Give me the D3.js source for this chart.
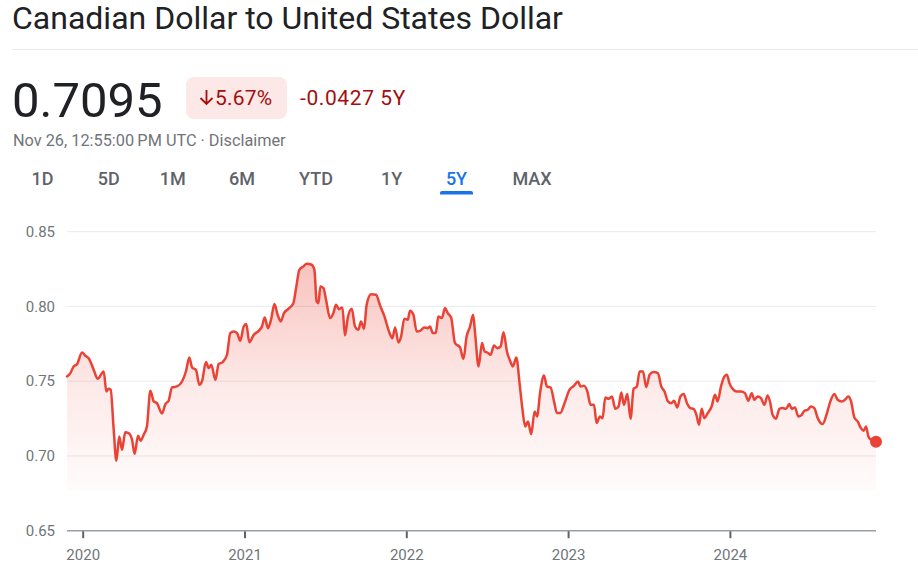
<!DOCTYPE html>
<html>
<head>
<meta charset="utf-8">
<script src="https://cdn.jsdelivr.net/npm/d3@7"></script>
<style>
  html, body { margin: 0; padding: 0; background: #fff; }
  svg { display: block; font-family: Roboto, "Noto Sans", Arial, sans-serif; }
</style>
</head>
<body>
<svg id="chart" width="918" height="571"></svg>
<script>
// ---------- data ----------
const title = "Canadian Dollar to United States Dollar";
const lastPrice = "0.7095";
const changeArrow = "\u2193";
const changePct = "5.67%";
const changeAbs = "-0.0427 5Y";
const timestamp = "Nov 26, 12:55:00\u2009PM UTC \u00b7 Disclaimer";
const rangeTabs = ["1D", "5D", "1M", "6M", "YTD", "1Y", "5Y", "MAX"];
const activeTab = "5Y";
const yTicks = [0.65, 0.70, 0.75, 0.80, 0.85];
const yTickLabels = ["0.65", "0.70", "0.75", "0.80", "0.85"];
const xTicks = [2020, 2021, 2022, 2023, 2024];
const xTickLabels = ["2020", "2021", "2022", "2023", "2024"];

// time as decimal years (Nov 26 2019 .. Nov 26 2024)
const dates = [
  2019.903, 2019.924, 2019.944, 2019.965, 2019.996, 2020.016, 2020.037, 2020.068, 2020.092, 2020.130,
  2020.146, 2020.160, 2020.173, 2020.191, 2020.208, 2020.226, 2020.243, 2020.263, 2020.284, 2020.305,
  2020.321, 2020.342, 2020.358, 2020.377, 2020.397, 2020.418, 2020.439, 2020.459, 2020.490, 2020.511,
  2020.531, 2020.552, 2020.583, 2020.614, 2020.638, 2020.659, 2020.676, 2020.700, 2020.721, 2020.737,
  2020.762, 2020.779, 2020.795, 2020.820, 2020.840, 2020.865, 2020.892, 2020.912, 2020.933, 2020.954,
  2020.974, 2020.995, 2021.011, 2021.030, 2021.057, 2021.088, 2021.108, 2021.125, 2021.145,
  2021.164, 2021.185, 2021.205, 2021.224, 2021.244, 2021.271, 2021.302, 2021.319, 2021.339, 2021.364,
  2021.385, 2021.415, 2021.432, 2021.446, 2021.457, 2021.469, 2021.488, 2021.504, 2021.529, 2021.549,
  2021.566, 2021.584, 2021.605, 2021.621, 2021.638, 2021.663, 2021.683, 2021.704, 2021.720, 2021.739,
  2021.755, 2021.782, 2021.813, 2021.838, 2021.865, 2021.893, 2021.914, 2021.931, 2021.951, 2021.968,
  2021.988, 2022.009, 2022.023, 2022.044, 2022.064, 2022.085, 2022.112, 2022.132, 2022.147, 2022.163,
  2022.182, 2022.198, 2022.219, 2022.240, 2022.256, 2022.277, 2022.301, 2022.332, 2022.353, 2022.373,
  2022.394, 2022.413,
  2022.426, 2022.447, 2022.468, 2022.484, 2022.501, 2022.521, 2022.542, 2022.562, 2022.583, 2022.601,
  2022.622, 2022.643, 2022.659, 2022.680, 2022.700, 2022.717, 2022.735, 2022.752, 2022.772, 2022.793,
  2022.808, 2022.828, 2022.851, 2022.869, 2022.892, 2022.913, 2022.931, 2022.952, 2022.978, 2023.009,
  2023.036, 2023.061, 2023.077, 2023.098, 2023.119, 2023.139, 2023.160, 2023.176, 2023.197, 2023.213,
  2023.230, 2023.250, 2023.271, 2023.292, 2023.312, 2023.329, 2023.345, 2023.366, 2023.386, 2023.405,
  2023.425, 2023.442, 2023.463, 2023.483, 2023.504, 2023.528, 2023.555, 2023.576, 2023.596, 2023.617,
  2023.638, 2023.654, 2023.675,
  2023.694, 2023.714, 2023.735, 2023.756, 2023.776, 2023.793, 2023.809, 2023.826, 2023.842, 2023.863,
  2023.887, 2023.908, 2023.924, 2023.945, 2023.966, 2023.982, 2023.997, 2024.021, 2024.042, 2024.069,
  2024.093, 2024.114, 2024.135, 2024.151, 2024.172, 2024.192, 2024.213, 2024.233, 2024.250, 2024.264,
  2024.285, 2024.306, 2024.326, 2024.347, 2024.367, 2024.382, 2024.402, 2024.423, 2024.444, 2024.460,
  2024.481, 2024.501, 2024.522, 2024.543, 2024.573, 2024.600, 2024.621, 2024.646, 2024.666, 2024.691,
  2024.711, 2024.732, 2024.749, 2024.769, 2024.790, 2024.810, 2024.827, 2024.841, 2024.856, 2024.872,
  2024.903
];
const rates = [
  0.7532, 0.7554, 0.7599, 0.7614, 0.7692, 0.7670, 0.7654, 0.7576, 0.7516, 0.7565,
  0.7431, 0.7449, 0.7443, 0.7186, 0.6968, 0.7130, 0.7041, 0.7159, 0.7153, 0.7108,
  0.7015, 0.7135, 0.7101, 0.7142, 0.7197, 0.7436, 0.7365, 0.7353, 0.7284, 0.7347,
  0.7369, 0.7458, 0.7465, 0.7498, 0.7565, 0.7659, 0.7592, 0.7576, 0.7476, 0.7498,
  0.7628, 0.7588, 0.7610, 0.7509, 0.7614, 0.7628, 0.7677, 0.7822, 0.7833, 0.7822,
  0.7770, 0.7866, 0.7882, 0.7761, 0.7810, 0.7837, 0.7866, 0.7926, 0.7855,
  0.7911, 0.8016, 0.7944, 0.7900, 0.7955, 0.7984, 0.8022, 0.8123, 0.8245, 0.8268,
  0.8285, 0.8279, 0.8245, 0.8033, 0.8022, 0.8134, 0.8123, 0.8045, 0.7922, 0.7955,
  0.8011, 0.7982, 0.7993, 0.7806, 0.7922, 0.7984, 0.7866, 0.7844, 0.7900, 0.7851,
  0.8011, 0.8082, 0.8078, 0.8007, 0.7933, 0.7833, 0.7788, 0.7860, 0.7759, 0.7800,
  0.7918, 0.7911, 0.7971, 0.7944, 0.7833, 0.7837, 0.7860, 0.7855, 0.7866, 0.7822,
  0.7822, 0.7933, 0.7922, 0.7989, 0.7955, 0.7926, 0.7755, 0.7726, 0.7648, 0.7800,
  0.7866, 0.7944,
  0.7810, 0.7599, 0.7755, 0.7699, 0.7692, 0.7677, 0.7739, 0.7721, 0.7733, 0.7828,
  0.7699, 0.7632, 0.7599, 0.7659, 0.7487, 0.7320, 0.7197, 0.7231, 0.7146, 0.7298,
  0.7264, 0.7431, 0.7538, 0.7465, 0.7458, 0.7365, 0.7287, 0.7287, 0.7353, 0.7443,
  0.7469, 0.7498, 0.7465, 0.7469, 0.7431, 0.7342, 0.7342, 0.7220, 0.7264, 0.7253,
  0.7391, 0.7382, 0.7398, 0.7315, 0.7331, 0.7425, 0.7342, 0.7414, 0.7249, 0.7449,
  0.7465, 0.7565, 0.7565, 0.7460, 0.7543, 0.7561, 0.7554, 0.7465, 0.7431, 0.7365,
  0.7353, 0.7369, 0.7324,
  0.7398, 0.7414, 0.7353, 0.7320, 0.7315, 0.7275, 0.7208, 0.7315, 0.7253, 0.7287,
  0.7331, 0.7409, 0.7365, 0.7465, 0.7532, 0.7543, 0.7487, 0.7443, 0.7431, 0.7431,
  0.7420, 0.7369, 0.7420, 0.7376, 0.7398, 0.7387, 0.7342, 0.7405, 0.7353, 0.7275,
  0.7249, 0.7315, 0.7320, 0.7315, 0.7347, 0.7315, 0.7324, 0.7264, 0.7275, 0.7302,
  0.7309, 0.7331, 0.7320, 0.7253, 0.7213, 0.7287, 0.7365, 0.7414, 0.7376, 0.7365,
  0.7376, 0.7398, 0.7365, 0.7258, 0.7231, 0.7186, 0.7168, 0.7197, 0.7130, 0.7108,
  0.7095
];

// ---------- layout ----------
const W = 918, H = 571;
const plot = { left: 67, right: 876, top: 231.7, bottom: 530.7, fillBottom: 490 };
const RED = "#ea4335";

const svg = d3.select("#chart");

// header
svg.append("text").attr("x", 12).attr("y", 28.5)
  .attr("font-size", 32).attr("fill", "#202124").text(title);
svg.append("line").attr("x1", 12).attr("x2", W).attr("y1", 49.5).attr("y2", 49.5)
  .attr("stroke", "#e8eaed").attr("stroke-width", 1);

svg.append("text").attr("x", 12).attr("y", 116.5)
  .attr("font-size", 49).attr("fill", "#202124").text(lastPrice);

svg.append("rect").attr("x", 186).attr("y", 77).attr("width", 101).attr("height", 42)
  .attr("rx", 8).attr("fill", "#fce8e6");
// down arrow drawn as a small icon
const ax = 206.5, ayTop = 90, ayBot = 105;
svg.append("path")
  .attr("d", `M${ax},${ayTop} L${ax},${ayBot - 1} M${ax - 6},${ayBot - 7} L${ax},${ayBot - 1} L${ax + 6},${ayBot - 7}`)
  .attr("fill", "none").attr("stroke", "#a50e0e").attr("stroke-width", 1.8);
svg.append("text").attr("x", 215).attr("y", 105)
  .attr("font-size", 21).attr("fill", "#a50e0e").attr("letter-spacing", 0.2).text(changePct);
svg.append("text").attr("x", 300).attr("y", 105)
  .attr("font-size", 21).attr("fill", "#a50e0e").attr("letter-spacing", 0.6).text(changeAbs);

svg.append("text").attr("x", 13).attr("y", 146)
  .attr("font-size", 16.3).attr("fill", "#70757a").text(timestamp);

// range tabs
const tabCenters = [42.5, 108.8, 172.8, 242, 316, 391.7, 456.5, 532];
const tabs = svg.append("g");
rangeTabs.forEach((t, i) => {
  tabs.append("text").attr("x", tabCenters[i]).attr("y", 185)
    .attr("text-anchor", "middle").attr("font-size", 18).attr("font-weight", 500)
    .attr("fill", t === activeTab ? "#1a73e8" : "#5f6368").text(t);
  if (t === activeTab) {
    tabs.append("path")
      .attr("d", `M${tabCenters[i] - 16.5},194.5 L${tabCenters[i] - 16.5},193 a2,2 0 0 1 2,-2 L${tabCenters[i] + 14.5},191 a2,2 0 0 1 2,2 L${tabCenters[i] + 16.5},194.5 Z`)
      .attr("fill", "#1a73e8");
  }
});

// scales
const data = dates.map((d, i) => ({ t: d, v: rates[i] })).filter(d => d.v !== undefined);
const x = d3.scaleLinear().domain([dates[0], dates[dates.length - 1]]).range([plot.left, plot.right]);
const y = d3.scaleLinear().domain([0.65, 0.85]).range([plot.bottom, plot.top]);

// gradient
const defs = svg.append("defs");
const grad = defs.append("linearGradient").attr("id", "fillGrad")
  .attr("gradientUnits", "userSpaceOnUse")
  .attr("x1", 0).attr("x2", 0).attr("y1", y(d3.max(rates))).attr("y2", plot.fillBottom);
grad.append("stop").attr("offset", 0).attr("stop-color", RED).attr("stop-opacity", 0.32);
grad.append("stop").attr("offset", 0.55).attr("stop-color", RED).attr("stop-opacity", 0.11);
grad.append("stop").attr("offset", 1).attr("stop-color", RED).attr("stop-opacity", 0.02);

// gridlines
svg.append("g").selectAll("line")
  .data(yTicks.filter(v => v > 0.65))
  .join("line")
  .attr("x1", plot.left).attr("x2", plot.right)
  .attr("y1", d => y(d)).attr("y2", d => y(d))
  .attr("stroke", "#ebebeb").attr("stroke-width", 1);

// y labels
svg.append("g").selectAll("text")
  .data(yTicks)
  .join("text")
  .attr("x", 55).attr("y", d => y(d)).attr("dy", "0.35em")
  .attr("text-anchor", "end").attr("font-size", 15).attr("fill", "#70757a")
  .text((d, i) => yTickLabels[i]);

// area + line
const curve = d3.curveMonotoneX;
svg.append("path").datum(data)
  .attr("d", d3.area().x(d => x(d.t)).y0(plot.fillBottom).y1(d => y(d.v)).curve(curve))
  .attr("fill", "url(#fillGrad)");

// x axis
const xAxis = d3.axisBottom(x).tickValues(xTicks).tickSize(0).tickFormat((d, i) => xTickLabels[i]);
const gx = svg.append("g").attr("transform", `translate(0,${plot.bottom})`).call(xAxis);
gx.select(".domain").remove();
gx.append("line").attr("x1", plot.left).attr("x2", plot.right).attr("y1", 0).attr("y2", 0)
  .attr("stroke", "#9aa0a6").attr("stroke-width", 1.5);
gx.selectAll(".tick").append("line").attr("y1", 0).attr("y2", 7.5)
  .attr("stroke", "#5f6368").attr("stroke-width", 2);
gx.selectAll(".tick text").attr("y", 29.5).attr("dy", 0)
  .attr("font-size", 15).attr("font-family", "Roboto, sans-serif").attr("fill", "#70757a");

svg.append("path").datum(data)
  .attr("d", d3.line().x(d => x(d.t)).y(d => y(d.v)).curve(curve))
  .attr("fill", "none").attr("stroke", RED).attr("stroke-width", 2.5)
  .attr("stroke-linejoin", "round").attr("stroke-linecap", "round");

const last = data[data.length - 1];
svg.append("circle").attr("cx", x(last.t)).attr("cy", y(last.v)).attr("r", 6).attr("fill", RED);
</script>
</body>
</html>
